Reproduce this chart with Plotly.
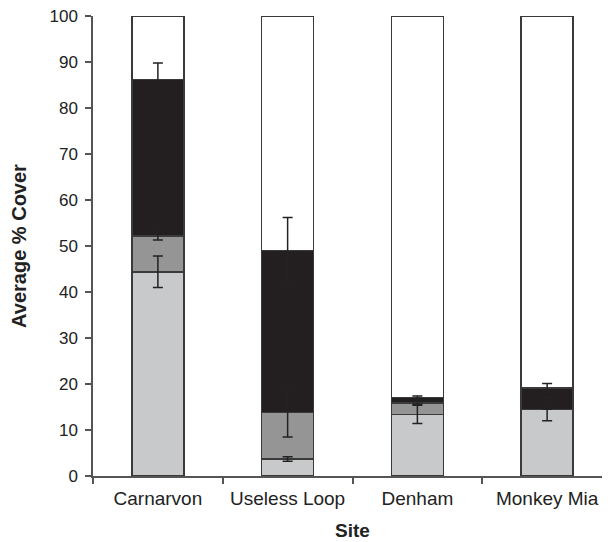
import plotly.graph_objects as go
import numpy as np

sites = ["Carnarvon", "Useless Loop", "Denham", "Monkey Mia"]

# segment values (bottom to top)
light_vals = [44.4, 3.7, 13.4, 14.5]
mid_vals = [7.8, 10.1, 2.5, 0.0]
black_vals = [34.0, 35.2, 1.2, 4.6]
white_vals = [13.8, 51.0, 82.9, 80.9]

light_err = [3.4, 0.5, 2.0, 2.5]
mid_err = [0.9, 5.3, 0.3, 0.0]
black_err = [3.6, 7.2, 0.3, 1.0]

colors = ["#c8c9cb", "#959595", "#231f20", "#ffffff"]
line_col = "#3a3a3a"

fig = go.Figure()
for vals, col in zip([light_vals, mid_vals, black_vals, white_vals], colors):
    fig.add_trace(go.Bar(x=sites, y=vals, marker=dict(color=col, line=dict(color=line_col, width=1.5)),
                         width=0.4, showlegend=False, hoverinfo="skip", cliponaxis=False))

cum = np.cumsum(np.array([light_vals, mid_vals, black_vals]), axis=0)
for tops, errs in zip(cum, [light_err, mid_err, black_err]):
    fig.add_trace(go.Scatter(x=sites, y=tops, mode="markers", marker=dict(size=1, opacity=0),
                             error_y=dict(type="data", array=errs, visible=True, color="#222222",
                                          thickness=1.5, width=5),
                             showlegend=False, hoverinfo="skip"))

fig.update_layout(
    barmode="stack",
    width=610, height=542,
    margin=dict(l=85, r=6, t=8, b=74, autoexpand=False),
    paper_bgcolor="white", plot_bgcolor="white",
    font=dict(family="Liberation Sans, Arial, sans-serif", size=17, color="#222222"),
    xaxis=dict(
        range=[-0.5, 3.5], showline=True, linecolor="#555555", linewidth=1.5,
        ticks="outside", tickson="boundaries", ticklen=6, tickcolor="#555555", tickwidth=1.5,
        tickfont=dict(size=19), ticklabelstandoff=4, automargin=False,
        showgrid=False, zeroline=False,
        title=dict(text="<b>Site</b>", font=dict(size=19), standoff=16),
    ),
    yaxis=dict(
        range=[0, 100], dtick=10, showline=True, linecolor="#555555", linewidth=1.5,
        ticks="outside", ticklen=6, tickcolor="#555555", tickwidth=1.5,
        tickfont=dict(size=17), ticklabelstandoff=4, ticklabeloverflow="allow",
        automargin=False,
        showgrid=False, zeroline=False,
        title=dict(text="<b>Average % Cover</b>", font=dict(size=20), standoff=30),
    ),
)

fig.write_html("out.html")
